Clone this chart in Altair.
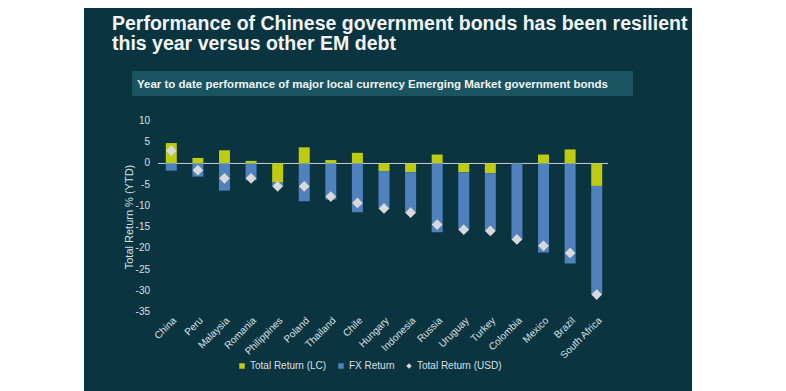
import altair as alt
import pandas as pd

countries = ["China", "Peru", "Malaysia", "Romania", "Philippines", "Poland", "Thailand",
             "Chile", "Hungary", "Indonesia", "Russia", "Uruguay", "Turkey", "Colombia",
             "Mexico", "Brazil", "South Africa"]
lc_return = [4.8, 1.3, 3.1, 0.6, -4.5, 3.8, 0.8, 2.5, -1.8, -2.1, 2.1, -2.1, -2.3, 0.1, 2.1, 3.3, -5.3]
fx_return = [-1.7, -3.1, -6.4, -4.0, -0.9, -8.9, -8.5, -11.5, -8.8, -9.5, -16.2, -13.5, -13.6,
             -18.0, -21.0, -23.6, -25.6]
usd_return = [3.0, -1.6, -3.5, -3.5, -5.4, -5.4, -7.8, -9.3, -10.6, -11.6, -14.4, -15.6, -15.9,
              -17.9, -19.4, -21.1, -30.9]
series_names = ["Total Return (LC)", "FX Return", "Total Return (USD)"]
series_colors = ["#bfcb10", "#4f81bd", "#d9d9d9"]
series_shapes = ["square", "square", "diamond"]
y_ticks = [10, 5, 0, -5, -10, -15, -20, -25, -30, -35]

title_lines = ["Performance of Chinese government bonds has been resilient",
               "this year versus other EM debt"]
subtitle = "Year to date performance of major local currency Emerging Market government bonds"

BG = "#0b3441"
BOX = "#1a5461"
TXT = "#d8e0e3"
FONT = "Liberation Sans"

n = len(countries)
bars_df = pd.DataFrame({
    "country": countries * 2,
    "value": lc_return + fx_return,
    "series": [series_names[0]] * n + [series_names[1]] * n,
    "col": [series_colors[0]] * n + [series_colors[1]] * n,
    "ord": [0] * n + [1] * n,
})
usd_df = pd.DataFrame({"country": countries, "value": usd_return})
legend_df = pd.DataFrame({"series": series_names})
ticks_df = pd.DataFrame({"value": y_ticks, "label": [str(v) for v in y_ticks]})
one = pd.DataFrame({"a": [0]})

x_axis = alt.Axis(title=None, labelAngle=-45, labelFontSize=10, labelColor=TXT,
                  domain=False, ticks=False, labelPadding=3, zindex=2, labelOverlap=False)
y_axis = alt.Axis(title="Total Return % (YTD)", values=y_ticks, grid=False,
                  domain=False, ticks=False, labels=False,
                  titleFontSize=11, titleFontWeight="normal",
                  titleColor=TXT, titlePadding=24, zindex=2)
x_scale = alt.Scale(domain=countries, paddingInner=0, paddingOuter=0)
y_scale = alt.Scale(domain=[-35, 10], nice=False, zero=False)

legend_props = dict(title=None, orient="none", legendX=79, legendY=240,
                    direction="horizontal", labelColor=TXT, labelFontSize=10,
                    symbolSize=30, columnPadding=9, labelOffset=3,
                    symbolStrokeWidth=0, padding=0, zindex=2)

panel = alt.Chart(one).mark_rect(color=BG).encode(
    x=alt.value(-74), x2=alt.value(534), y=alt.value(-130), y2=alt.value(280))
box = alt.Chart(one).mark_rect(color=BOX).encode(
    x=alt.value(-26), x2=alt.value(475), y=alt.value(-50), y2=alt.value(-25))
title = alt.Chart(one).mark_text(align="left", baseline="alphabetic", fontSize=19.5,
                                 fontWeight="bold", color="#f2f5f6", lineHeight=20,
                                 font=FONT).encode(
    x=alt.value(-46), y=alt.value(-91), text=alt.value(title_lines))
sub = alt.Chart(one).mark_text(align="left", baseline="alphabetic", fontSize=11.5,
                               fontWeight="bold", color="#eef3f4", font=FONT).encode(
    x=alt.value(-21), y=alt.value(-33), text=alt.value(subtitle))
zero_rule = alt.Chart(one).mark_rule(color="#c9d3d7", strokeWidth=1).encode(
    y=alt.datum(0), x=alt.value(0), x2=alt.value(450))

y_labels = alt.Chart(ticks_df).mark_text(align="right", baseline="middle", fontSize=10,
                                         color=TXT, font=FONT).encode(
    x=alt.value(-8),
    y=alt.Y("value:Q", scale=y_scale, axis=y_axis),
    text="label:N")

bars = alt.Chart(bars_df).mark_bar(size=11).encode(
    x=alt.X("country:N", sort=countries, scale=x_scale, axis=x_axis),
    y=alt.Y("value:Q", scale=y_scale, stack="zero", axis=y_axis),
    color=alt.Color("col:N", scale=None),
    order=alt.Order("ord:Q"))
diamonds = alt.Chart(usd_df).mark_point(shape="diamond", filled=True, size=115,
                                         color="#d9d9d9", opacity=1).encode(
    x=alt.X("country:N", sort=countries, scale=x_scale, axis=x_axis),
    y=alt.Y("value:Q", scale=y_scale, axis=y_axis))
legend_layer = alt.Chart(legend_df).mark_point(filled=True, opacity=1).encode(
    x=alt.value(-2000), y=alt.value(-2000),
    color=alt.Color("series:N", scale=alt.Scale(domain=series_names, range=series_colors),
                    legend=alt.Legend(**legend_props)),
    shape=alt.Shape("series:N", scale=alt.Scale(domain=series_names, range=series_shapes),
                    legend=alt.Legend(**legend_props)))

chart = alt.layer(panel, box, title, sub, zero_rule, y_labels, bars, diamonds,
                  legend_layer).properties(
    width=452, height=191,
    padding={"left": 150, "top": 113, "right": 168, "bottom": 79},
    autosize=alt.AutoSizeParams(type="none"),
    background="white",
).configure_view(stroke=None).configure(font=FONT)

chart.save("out.html", embed_options={"renderer": "svg", "actions": False})
